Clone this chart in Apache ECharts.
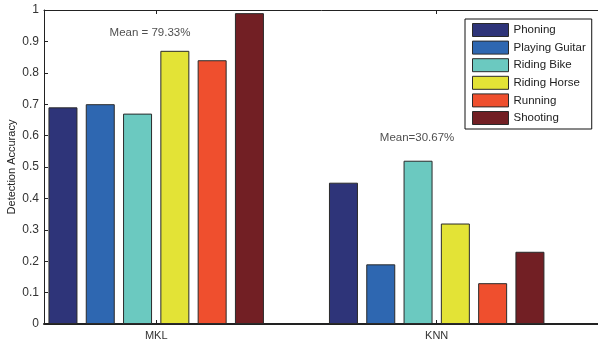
<!DOCTYPE html>
<html>
<head>
<meta charset="utf-8">
<script src="https://cdn.jsdelivr.net/npm/echarts@6/dist/echarts.min.js"></script>
<style>
  html, body { margin: 0; padding: 0; background: #fff; }
  #chart { width: 598px; height: 341px; }
</style>
</head>
<body>
<div id="chart"></div>
<script>
// Methods compared and their x positions on the axis
const methods = ['MKL', 'KNN'];
const methodPos = [1, 2];

// Action classes (one bar series each)
const actions = ['Phoning', 'Playing Guitar', 'Riding Bike', 'Riding Horse', 'Running', 'Shooting'];
const colors = ['#2e3479', '#2e67b1', '#6bc9c0', '#e3e336', '#ef4f2e', '#721f24'];

// Detection accuracy per action, for MKL and KNN
const phoning = [0.69, 0.45];
const playingGuitar = [0.70, 0.19];
const ridingBike = [0.67, 0.52];
const ridingHorse = [0.87, 0.32];
const running = [0.84, 0.13];
const shooting = [0.99, 0.23];
const accuracy = [phoning, playingGuitar, ridingBike, ridingHorse, running, shooting];

// Mean annotations and where they sit (data coordinates)
const meanText = ['Mean = 79.33%', 'Mean=30.67%'];
const meanX = [0.978, 1.93];
const meanY = [0.927, 0.592];

// Y ticks
const yTicks = [0, 0.1, 0.2, 0.3, 0.4, 0.5, 0.6, 0.7, 0.8, 0.9, 1];

const font = 'Liberation Sans, Arial, Helvetica, sans-serif';

const barSeries = actions.map((name, i) => ({
  name: name,
  type: 'bar',
  barWidth: 29,
  barGap: '28.6%',
  itemStyle: { color: colors[i], borderColor: '#2a2a2a', borderWidth: 1 },
  data: methodPos.map((x, j) => [x, accuracy[i][j]]),
  animation: false
}));

const meanSeries = {
  type: 'scatter',
  symbolSize: 0,
  silent: true,
  data: meanX.map((x, i) => ({ value: [x, meanY[i]], name: meanText[i] })),
  label: {
    show: true,
    position: 'inside',
    formatter: p => p.name,
    color: '#222',
    fontSize: 11.5,
    fontFamily: font
  },
  animation: false
};

const xAxisBase = {
  type: 'value',
  min: 0.6,
  max: 2.6,
  splitLine: { show: false }
};

const chart = echarts.init(document.getElementById('chart'), null, { renderer: 'canvas' });
chart.setOption({
  backgroundColor: '#fff',
  textStyle: { fontFamily: font },
  grid: { left: 44, top: 10, width: 561, height: 314, containLabel: false, outerBoundsMode: 'none' },
  legend: {
    orient: 'vertical',
    left: 465,
    top: 19,
    padding: [4, 6, 4, 7],
    itemWidth: 36,
    itemHeight: 13,
    itemGap: 3.6,
    icon: 'rect',
    borderColor: '#111',
    borderWidth: 1,
    backgroundColor: '#fff',
    data: actions,
    textStyle: { fontSize: 11.5, color: '#222', fontFamily: font },
    itemStyle: { borderColor: '#2a2a2a', borderWidth: 1 }
  },
  xAxis: [
    Object.assign({}, xAxisBase, {
      position: 'bottom',
      axisLine: { show: true, onZero: false, lineStyle: { color: '#222', width: 2 } },
      axisTick: { show: true, inside: true, length: 4, customValues: methodPos, lineStyle: { color: '#222' } },
      axisLabel: {
        show: true, customValues: methodPos, margin: 6,
        formatter: v => methods[methodPos.indexOf(v)] || '',
        fontSize: 11, color: '#333', fontFamily: font
      }
    }),
    Object.assign({}, xAxisBase, {
      position: 'top',
      axisLine: { show: true, onZero: false, lineStyle: { color: '#222', width: 1 } },
      axisTick: { show: true, inside: true, length: 4, customValues: methodPos, lineStyle: { color: '#222' } },
      axisLabel: { show: false }
    })
  ],
  yAxis: {
    type: 'value',
    min: 0,
    max: 1,
    interval: 0.1,
    name: 'Detection Accuracy',
    nameLocation: 'middle',
    nameGap: 27,
    nameMoveOverlap: false,
    nameTextStyle: { fontSize: 11, color: '#222', fontFamily: font },
    axisLine: { show: true, onZero: false, lineStyle: { color: '#222', width: 1 } },
    axisTick: { show: true, inside: true, length: 4, customValues: yTicks, lineStyle: { color: '#222' } },
    axisLabel: {
      customValues: yTicks,
      margin: 5, fontSize: 12, color: '#333', fontFamily: font,
      formatter: v => String(Math.round(v * 10) / 10)
    },
    splitLine: { show: false }
  },
  series: barSeries.concat([meanSeries]),
  animation: false
});
</script>
</body>
</html>
